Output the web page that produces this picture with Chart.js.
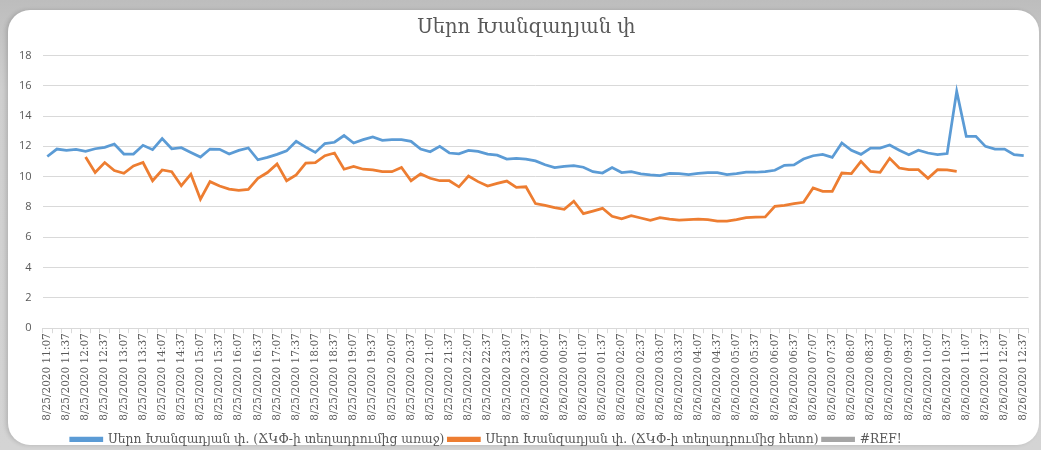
<!DOCTYPE html>
<html>
<head>
<meta charset="utf-8">
<script src="https://cdn.jsdelivr.net/npm/chart.js@4.4.1/dist/chart.umd.min.js"></script>
<style>
  html, body { margin: 0; padding: 0; }
  body {
    width: 1041px; height: 450px; overflow: hidden; position: relative;
    background: linear-gradient(180deg, #bdbdbd 0%, #cfcfcf 20%, #d4d4d4 100%);
  }
  #card {
    position: absolute; left: 8px; top: 10px; width: 1031px; height: 435px;
    background: #fff; border-radius: 22px;
    box-shadow: -2px 0 4px rgba(0,0,0,0.15);
  }
  #chart { position: absolute; left: 0; top: 0; }
</style>
</head>
<body>
<div id="card"></div>
<canvas id="chart" width="1041" height="450"></canvas>
<script>
// every 15 minutes, 8/25/2020 11:07 -> 8/26/2020 12:37
const categories = [
    '8/25/2020 11:07', '8/25/2020 11:22', '8/25/2020 11:37', '8/25/2020 11:52',
    '8/25/2020 12:07', '8/25/2020 12:22', '8/25/2020 12:37', '8/25/2020 12:52',
    '8/25/2020 13:07', '8/25/2020 13:22', '8/25/2020 13:37', '8/25/2020 13:52',
    '8/25/2020 14:07', '8/25/2020 14:22', '8/25/2020 14:37', '8/25/2020 14:52',
    '8/25/2020 15:07', '8/25/2020 15:22', '8/25/2020 15:37', '8/25/2020 15:52',
    '8/25/2020 16:07', '8/25/2020 16:22', '8/25/2020 16:37', '8/25/2020 16:52',
    '8/25/2020 17:07', '8/25/2020 17:22', '8/25/2020 17:37', '8/25/2020 17:52',
    '8/25/2020 18:07', '8/25/2020 18:22', '8/25/2020 18:37', '8/25/2020 18:52',
    '8/25/2020 19:07', '8/25/2020 19:22', '8/25/2020 19:37', '8/25/2020 19:52',
    '8/25/2020 20:07', '8/25/2020 20:22', '8/25/2020 20:37', '8/25/2020 20:52',
    '8/25/2020 21:07', '8/25/2020 21:22', '8/25/2020 21:37', '8/25/2020 21:52',
    '8/25/2020 22:07', '8/25/2020 22:22', '8/25/2020 22:37', '8/25/2020 22:52',
    '8/25/2020 23:07', '8/25/2020 23:22', '8/25/2020 23:37', '8/25/2020 23:52',
    '8/26/2020 00:07', '8/26/2020 00:22', '8/26/2020 00:37', '8/26/2020 00:52',
    '8/26/2020 01:07', '8/26/2020 01:22', '8/26/2020 01:37', '8/26/2020 01:52',
    '8/26/2020 02:07', '8/26/2020 02:22', '8/26/2020 02:37', '8/26/2020 02:52',
    '8/26/2020 03:07', '8/26/2020 03:22', '8/26/2020 03:37', '8/26/2020 03:52',
    '8/26/2020 04:07', '8/26/2020 04:22', '8/26/2020 04:37', '8/26/2020 04:52',
    '8/26/2020 05:07', '8/26/2020 05:22', '8/26/2020 05:37', '8/26/2020 05:52',
    '8/26/2020 06:07', '8/26/2020 06:22', '8/26/2020 06:37', '8/26/2020 06:52',
    '8/26/2020 07:07', '8/26/2020 07:22', '8/26/2020 07:37', '8/26/2020 07:52',
    '8/26/2020 08:07', '8/26/2020 08:22', '8/26/2020 08:37', '8/26/2020 08:52',
    '8/26/2020 09:07', '8/26/2020 09:22', '8/26/2020 09:37', '8/26/2020 09:52',
    '8/26/2020 10:07', '8/26/2020 10:22', '8/26/2020 10:37', '8/26/2020 10:52',
    '8/26/2020 11:07', '8/26/2020 11:22', '8/26/2020 11:37', '8/26/2020 11:52',
    '8/26/2020 12:07', '8/26/2020 12:22', '8/26/2020 12:37'
];

// before installation (blue)
const beforeValues = [
    11.33, 11.82, 11.73, 11.80, 11.67, 11.84, 11.93, 12.15, 11.49, 11.49,
    12.07, 11.78, 12.51, 11.84, 11.91, 11.60, 11.29, 11.82, 11.80, 11.49,
    11.73, 11.89, 11.11, 11.27, 11.47, 11.70, 12.33, 11.95, 11.60, 12.18,
    12.27, 12.71, 12.22, 12.44, 12.62, 12.40, 12.44, 12.44, 12.33, 11.82,
    11.64, 12.00, 11.56, 11.51, 11.73, 11.67, 11.49, 11.42, 11.16, 11.20,
    11.16, 11.04, 10.78, 10.60, 10.67, 10.73, 10.62, 10.33, 10.24, 10.60,
    10.27, 10.33, 10.18, 10.11, 10.07, 10.22, 10.20, 10.13, 10.22, 10.27,
    10.27, 10.13, 10.20, 10.29, 10.29, 10.33, 10.42, 10.75, 10.77, 11.16,
    11.38, 11.47, 11.27, 12.22, 11.74, 11.47, 11.89, 11.89, 12.09, 11.74,
    11.45, 11.74, 11.56, 11.45, 11.52, 15.63, 12.66, 12.66, 12.00, 11.82,
    11.82, 11.45, 11.38
];

// after installation (orange)
const afterValues = [
    null, null, null, null, 11.29, 10.27, 10.93, 10.40, 10.22, 10.71,
    10.93, 9.73, 10.44, 10.33, 9.40, 10.16, 8.51, 9.67, 9.38, 9.18,
    9.09, 9.16, 9.89, 10.27, 10.84, 9.73, 10.11, 10.89, 10.93, 11.38,
    11.56, 10.49, 10.67, 10.49, 10.44, 10.33, 10.33, 10.60, 9.73, 10.18,
    9.89, 9.73, 9.73, 9.33, 10.04, 9.67, 9.38, 9.56, 9.71, 9.29,
    9.33, 8.22, 8.11, 7.96, 7.84, 8.38, 7.56, 7.73, 7.91, 7.38,
    7.22, 7.42, 7.27, 7.11, 7.29, 7.20, 7.13, 7.16, 7.20, 7.16,
    7.07, 7.07, 7.16, 7.29, 7.33, 7.34, 8.04, 8.11, 8.22, 8.31,
    9.25, 9.03, 9.03, 10.24, 10.20, 11.01, 10.35, 10.29, 11.21, 10.57,
    10.46, 10.46, 9.89, 10.46, 10.44, 10.35, null, null, null, null,
    null, null, null
];

// #REF! series has no values
const refValues = [];

const seriesNames = [
    'Սերո Խանզադյան փ. (ՃԿՓ-ի տեղադրումից առաջ)',
    'Սերո Խանզադյան փ. (ՃԿՓ-ի տեղադրումից հետո)',
    '#REF!'
];
const yTicks = [0, 2, 4, 6, 8, 10, 12, 14, 16, 18];

const textColor = '#595959';
const gridColor = '#d9d9d9';

function lineSet(label, data, color) {
    return {
        label: label,
        data: data,
        borderColor: color,
        backgroundColor: color,
        borderWidth: 2.75,
        pointRadius: 0,
        tension: 0,
        spanGaps: false,
        fill: false
    };
}

// Excel places the title and legend a bit off the canvas centre
const nudgeBlocks = {
    id: 'nudgeBlocks',
    afterLayout(chart) {
        chart.titleBlock.left += 8;
        chart.titleBlock.right += 8;
        chart.legend.left -= 32;
        chart.legend.right -= 32;
        chart.legend.top += 5.5;
        chart.legend.bottom += 5.5;
    }
};

new Chart(document.getElementById('chart'), {
    type: 'line',
    data: {
        labels: categories,
        datasets: [
            lineSet(seriesNames[0], beforeValues, '#5b9bd5'),
            lineSet(seriesNames[1], afterValues, '#ed7d31'),
            lineSet(seriesNames[2], refValues, '#a5a5a5')
        ]
    },
    plugins: [nudgeBlocks],
    options: {
        responsive: false,
        animation: false,
        layout: { padding: { left: 8, right: 12.5, top: 0, bottom: 0 } },
        plugins: {
            title: {
                display: true,
                text: 'Սերո Խանզադյան փ',
                color: textColor,
                font: { family: 'DejaVu Serif', size: 19.5, weight: 'normal' },
                padding: { top: 16, bottom: 16 }
            },
            legend: {
                position: 'bottom',
                labels: {
                    color: textColor,
                    font: { family: 'DejaVu Serif', size: 12.3 },
                    boxWidth: 31,
                    boxHeight: 2.5,
                    padding: 4
                }
            },
            tooltip: { enabled: false }
        },
        scales: {
            x: {
                offset: true,
                afterFit: s => { s.height = 95.5; },
                grid: {
                    drawOnChartArea: false,
                    color: gridColor,
                    tickLength: 5,
                    offset: true
                },
                border: { color: gridColor },
                ticks: {
                    autoSkip: false,
                    minRotation: 90,
                    maxRotation: 90,
                    color: textColor,
                    font: { family: 'DejaVu Serif', size: 10.5 },
                    padding: 0,
                    callback: function (v, i) {
                        return i % 2 === 0 ? categories[i] : '';
                    }
                }
            },
            y: {
                min: 0,
                max: 18,
                afterFit: s => { s.width = 34.5; },
                afterBuildTicks: s => { s.ticks = yTicks.map(v => ({ value: v })); },
                grid: { color: gridColor, drawTicks: false },
                border: { display: false },
                ticks: {
                    color: textColor,
                    font: { family: 'Open Sans', size: 11 },
                    padding: 11
                }
            }
        }
    }
});
</script>
</body>
</html>
